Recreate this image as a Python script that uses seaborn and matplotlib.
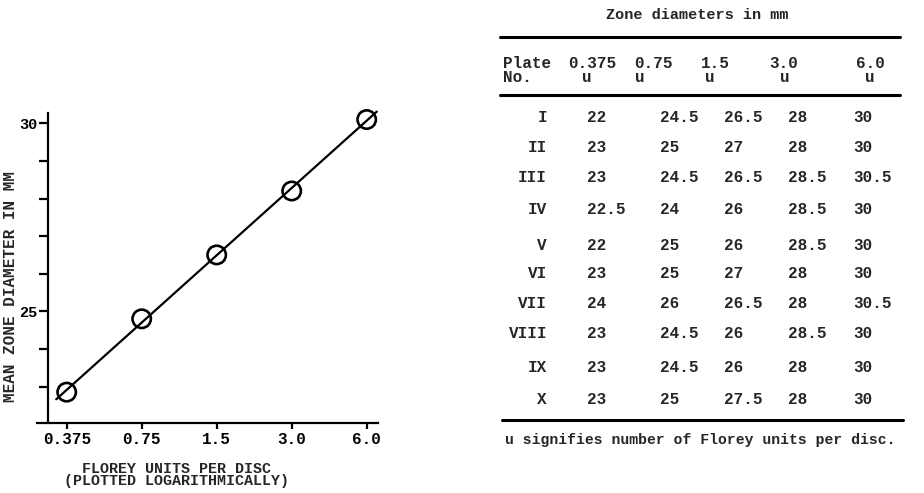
import numpy as np
import pandas as pd
import matplotlib
matplotlib.use("Agg")
import matplotlib.pyplot as plt
from matplotlib.lines import Line2D
import seaborn as sns

# ---------------- data ----------------
units = [0.375, 0.75, 1.5, 3.0, 6.0]
unit_labels = ["0.375", "0.75", "1.5", "3.0", "6.0"]
mean_diam = [22.85, 24.8, 26.5, 28.2, 30.1]

plates = ["I", "II", "III", "IV", "V", "VI", "VII", "VIII", "IX", "X"]
col_0375 = ["22", "23", "23", "22.5", "22", "23", "24", "23", "23", "23"]
col_075 = ["24.5", "25", "24.5", "24", "25", "25", "26", "24.5", "24.5", "25"]
col_15 = ["26.5", "27", "26.5", "26", "26", "27", "26.5", "26", "26", "27.5"]
col_30 = ["28", "28", "28.5", "28.5", "28.5", "28", "28", "28.5", "28", "28"]
col_60 = ["30", "30", "30.5", "30", "30", "30", "30.5", "30", "30", "30"]
header_top = ["0.375", "0.75", "1.5", "3.0", "6.0"]

# ---------------- style ----------------
sns.set_style("ticks")
plt.rcParams["font.family"] = ["Liberation Mono", "DejaVu Sans Mono"]
plt.rcParams["font.weight"] = "bold"

W, H = 924, 493
fig = plt.figure(figsize=(W / 100, H / 100), dpi=100)


def px(x, y):
    return x / W, 1 - y / H


# axes placement (pixels)
ax_l, ax_r, ax_t, ax_b = 37, 378, 113, 423
ax = fig.add_axes([ax_l / W, 1 - ax_b / H, (ax_r - ax_l) / W, (ax_b - ax_t) / H])
ax.set_facecolor("none")

df = pd.DataFrame({"units": units, "diam": mean_diam})

# regression line in log space
slope, intercept = np.polyfit(np.log2(units), mean_diam, 1)
fx = np.array([units[0] * 2 ** -0.14, units[-1] * 2 ** 0.135])
fit_df = pd.DataFrame({"units": fx, "diam": intercept + slope * np.log2(fx)})

ax.set_xscale("log", base=2)
sns.lineplot(data=fit_df, x="units", y="diam", ax=ax, color="black", lw=1.6,
             clip_on=False)
sns.scatterplot(data=df, x="units", y="diam", ax=ax, marker="o", s=175,
                facecolor="none", edgecolor="black", linewidth=1.9, zorder=3,
                clip_on=False)

ppd = 75.0  # pixels per doubling
ax.set_xlim(units[0] * 2 ** ((ax_l - 66.7) / ppd), units[-1] * 2 ** ((ax_r - 366.7) / ppd))
ax.set_ylim(30 - (ax_b - 123.3) / 37.6, 30 + (123.3 - ax_t) / 37.6)

ax.set_xticks(units)
ax.set_xticklabels(unit_labels)
ax.xaxis.set_minor_locator(matplotlib.ticker.NullLocator())
yt = list(range(23, 31))
ax.set_yticks(yt)
ax.set_yticklabels(["25" if v == 25 else ("30" if v == 30 else "") for v in yt])

ax.spines["top"].set_visible(False)
ax.spines["right"].set_visible(False)
ax.spines["left"].set_position(("data", units[0] * 2 ** ((48 - 66.7) / ppd)))
for s in ("left", "bottom"):
    ax.spines[s].set_linewidth(1.6)
    ax.spines[s].set_color("black")

ax.tick_params(axis="y", direction="out", length=6.5, width=1.6, pad=1,
               labelsize=11, colors="black")
ax.tick_params(axis="x", direction="out", length=4.5, width=1.6, pad=2,
               labelsize=11.5, colors="black")
for t in ax.get_xticklabels() + ax.get_yticklabels():
    t.set_fontweight("bold")
ax.set_xlabel("")
ax.set_ylabel("")

fig.text(*px(11, 287), "MEAN ZONE DIAMETER IN MM", rotation=90, ha="center",
         va="center", fontsize=11.5, fontweight="bold")
fig.text(*px(176, 475), "FLOREY UNITS PER DISC\n(PLOTTED LOGARITHMICALLY)",
         ha="center", va="center", fontsize=10.8, fontweight="bold",
         linespacing=0.88)

# ---------------- table ----------------
fig.text(*px(697, 15), "Zone diameters in mm", ha="center", va="center",
         fontsize=11, fontweight="bold")


def hline(y, x0, x1, lw):
    (a, b), (c, d) = px(x0, y), px(x1, y)
    fig.add_artist(Line2D([a, c], [b, d], transform=fig.transFigure,
                          color="black", lw=lw))


hline(37, 500, 900, 2.2)
hline(95, 500, 900, 2.2)
hline(420, 502, 903, 2.2)

fs = 11.5
fig.text(*px(503, 63), "Plate", ha="left", va="center", fontsize=fs, fontweight="bold")
fig.text(*px(503, 78), "No.", ha="left", va="center", fontsize=fs, fontweight="bold")
head_x = [592, 653, 715, 784, 870]
u_x = [587, 640, 710, 785, 870]
for hx, ux, lab in zip(head_x, u_x, header_top):
    fig.text(*px(hx, 63), lab, ha="center", va="center", fontsize=fs, fontweight="bold")
    fig.text(*px(ux, 78), "u", ha="center", va="center", fontsize=fs, fontweight="bold")

row_y = [118, 148, 178, 210, 245, 273, 303, 333, 367, 400]
col_x = [587, 660, 724, 788, 853]
cols = [col_0375, col_075, col_15, col_30, col_60]
for i, (p, ry) in enumerate(zip(plates, row_y)):
    fig.text(*px(547, ry), p, ha="right", va="center", fontsize=fs, fontweight="bold")
    for cx, col in zip(col_x, cols):
        fig.text(*px(cx, ry), col[i], ha="left", va="center", fontsize=fs,
                 fontweight="bold")

fig.text(*px(505, 440), "u signifies number of Florey units per disc.",
         ha="left", va="center", fontsize=10.6, fontweight="bold")

fig.savefig("out.png", dpi=100, facecolor="white")
